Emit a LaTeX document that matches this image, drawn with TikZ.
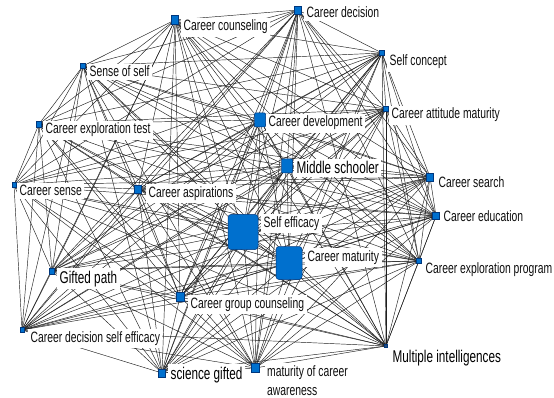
\documentclass[tikz,border=0pt]{standalone}
\usepackage{fontspec}
\setmainfont[FakeStretch=0.69]{Liberation Sans}
\pgfdeclarelayer{bg}
\pgfsetlayers{bg,main}
\definecolor{mk}{RGB}{0,112,206}
\definecolor{mkd}{RGB}{0,55,125}
\definecolor{tx}{RGB}{15,15,15}
\begin{document}
\begin{tikzpicture}[x=1pt,y=-1pt,
  marker/.style={fill=mk,draw=mkd,line width=0.4pt,inner sep=0pt,minimum width=#1,minimum height=#1},
  bigmarker/.style 2 args={fill=mk,draw=mkd,line width=0.5pt,inner sep=0pt,minimum width=#1,minimum height=#2,rounded corners=3pt},
  lbl/.style={anchor=base west,fill=white,inner xsep=2.5pt,inner ysep=2.5pt,text=tx,font=\fontsize{15}{17}\selectfont},
  biglbl/.style={anchor=base west,fill=white,inner xsep=2.5pt,inner ysep=2.5pt,text=black,font=\fontsize{17}{19}\selectfont},
  edge/.style={draw=black!88,line width=0.45pt}]
\useasboundingbox (0,0) rectangle (554,398);
% markers
\node[marker=7pt,minimum height=9pt] (cc) at (175,20) {};
\node[marker=7pt,minimum height=8pt] (cd) at (298,10) {};
\node[marker=5pt] (sc) at (382,53) {};
\node[marker=5pt] (ss) at (83,66) {};
\node[marker=5pt] (cam) at (386,109) {};
\node[marker=5pt,minimum height=6pt] (cet) at (39,124) {};
\node[bigmarker={11pt}{14pt},rounded corners=1pt] (cdev) at (260,120) {};
\node[bigmarker={11pt}{14pt},rounded corners=1pt] (ms) at (287,166) {};
\node[marker=7pt,minimum height=8pt] (cs) at (430,177) {};
\node[marker=4pt,minimum height=5pt] (csense) at (14,185) {};
\node[marker=7pt,minimum height=8pt] (ca) at (138,189) {};
\node[bigmarker={30pt}{35pt}] (se) at (243,232) {};
\node[marker=7pt] (ce) at (436,216) {};
\node[bigmarker={26pt}{33pt}] (cm) at (289,263) {};
\node[marker=5pt] (cep) at (419,261) {};
\node[marker=5pt,minimum height=6pt] (gp) at (52,271) {};
\node[marker=8pt,minimum height=9pt] (cgc) at (180,297) {};
\node[marker=4pt,minimum height=5pt] (cdse) at (22,330) {};
\node[marker=3pt,fill=mkd!70!gray] (mi) at (386,346) {};
\node[marker=7pt,minimum height=8pt] (sg) at (162,373) {};
\node[marker=8pt,minimum height=9pt] (mca) at (255,368) {};
% edges
\begin{pgfonlayer}{bg}
\fill[white] (0,0) rectangle (554,398);
\foreach \a [count=\i] in {cc,cd,sc,ss,cam,cet,cdev,ms,cs,csense,ca,se,ce,cm,cep,gp,cgc,cdse,mi,sg,mca}{
  \foreach \b [count=\j] in {cc,cd,sc,ss,cam,cet,cdev,ms,cs,csense,ca,se,ce,cm,cep,gp,cgc,cdse,mi,sg,mca}{
    \ifnum\j>\i \draw[edge] (\a) -- (\b);\fi
  }
}
\end{pgfonlayer}
% labels
\node[lbl] (lcc) at (181,31) {Career counseling};
\node[lbl] (lcd) at (304,18) {Career decision};
\node[lbl] (lsc) at (387,66) {Self concept};
\node[lbl] (lss) at (87,77) {Sense of self};
\node[lbl] (lcam) at (389,119) {Career attitude maturity};
\node[lbl] (lcet) at (43,134) {Career exploration test};
\node[lbl] (lcdev) at (266,127) {Career development};
\node[biglbl] (lms) at (294,174) {Middle schooler};
\node[lbl] (lcs) at (436,188) {Career search};
\node[lbl] (lcsense) at (17,196) {Career sense};
\node[lbl] (lca) at (146,197) {Career aspirations};
\node[lbl] (lse) at (261,227) {Self efficacy};
\node[lbl] (lce) at (441,222) {Career education};
\node[lbl] (lcm) at (305,261) {Career maturity};
\node[lbl] (lcep) at (423,273) {Career exploration program};
\node[biglbl] (lgp) at (57,283) {Gifted path};
\node[lbl] (lcgc) at (188,308) {Career group counseling};
\node[lbl] (lcdse) at (28,342) {Career decision self efficacy};
\node[biglbl] (lmi) at (390,362) {Multiple intelligences};
\node[biglbl] (lsg) at (168,379) {science gifted};
\node[lbl,anchor=north west,align=left,font=\fontsize{15}{19}\selectfont] (lmca) at (264.5,363) {maturity of career\\awareness};
\end{tikzpicture}
\end{document}
